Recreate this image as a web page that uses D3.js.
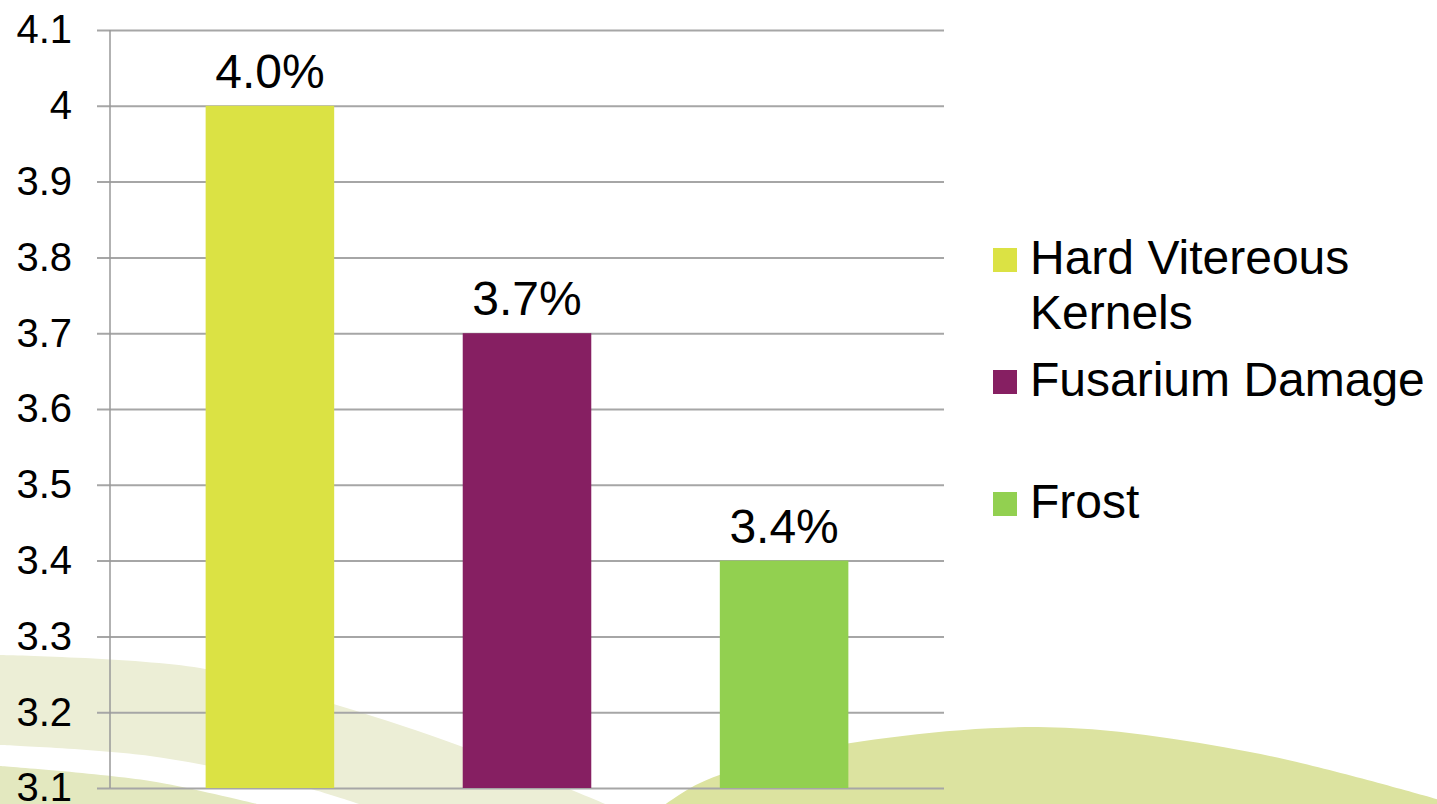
<!DOCTYPE html>
<html>
<head>
<meta charset="utf-8">
<script src="https://cdn.jsdelivr.net/npm/d3@7"></script>
<style>
  html, body { margin: 0; padding: 0; background: #fff; }
  svg { display: block; font-family: "Liberation Sans", Arial, sans-serif; }
</style>
</head>
<body>
<svg width="1437" height="804"></svg>
<script>
// chart data
var series = ["Hard Vitereous Kernels", "Fusarium Damage", "Frost"];
var legendLines = [["Hard Vitereous", "Kernels"], ["Fusarium Damage"], ["Frost"]];
var values = [4.0, 3.7, 3.4];
var valueLabels = ["4.0%", "3.7%", "3.4%"];
var yTicks = [3.1, 3.2, 3.3, 3.4, 3.5, 3.6, 3.7, 3.8, 3.9, 4.0, 4.1];
var colors = ["#dbe244", "#861f62", "#92d050"];

var svg = d3.select("svg"),
  plot = {left: 110, right: 944, top: 30, bottom: 788};

// decorative background waves
var wave = d3.line().curve(d3.curveCatmullRom);
var bg = svg.append("g");
bg.append("path")
  .attr("fill", "#eceed6")
  .attr("d", wave([[0, 655], [200, 668], [340, 706], [463, 747], [610, 806]]) +
    "L" + wave([[365, 806], [300, 786], [150, 756], [0, 745]]).slice(1) + "Z");
bg.append("path")
  .attr("fill", "#e3e8bf")
  .attr("d", wave([[0, 766], [150, 781], [265, 806]]) + "L0,806Z");
bg.append("path")
  .attr("fill", "#dce3a0")
  .attr("d", wave([[663, 806], [700, 783], [800, 752], [1038, 727], [1250, 752], [1440, 800]]) + "L1440,806Z");

var x = d3.scaleBand()
  .domain(series)
  .range([plot.left, plot.right])
  .paddingInner(0.5)
  .paddingOuter(0.372);

var y = d3.scaleLinear()
  .domain([3.1, 4.1])
  .range([plot.bottom, plot.top]);

// gridlines + tick labels
var yAxis = svg.append("g")
  .attr("transform", "translate(97,0)")
  .call(d3.axisLeft(y)
    .tickValues(yTicks)
    .tickFormat(d3.format("~g"))
    .tickSizeInner(-(plot.right - 97))
    .tickSizeOuter(0)
    .tickPadding(25));
yAxis.select(".domain").remove();
yAxis.selectAll(".tick line").attr("stroke", "#a6a6a6").attr("stroke-width", 2);
yAxis.selectAll(".tick text")
  .attr("font-size", 40)
  .attr("font-family", "'Liberation Sans', Arial, sans-serif")
  .attr("fill", "#000");

svg.append("line")
  .attr("x1", plot.left).attr("x2", plot.left)
  .attr("y1", plot.top).attr("y2", plot.bottom)
  .attr("stroke", "#999").attr("stroke-width", 1.5);

// bars
svg.append("g")
  .selectAll("rect")
  .data(values)
  .enter().append("rect")
    .attr("x", function(d, i) { return x(series[i]); })
    .attr("y", function(d) { return y(d); })
    .attr("width", x.bandwidth())
    .attr("height", function(d) { return y(3.1) - y(d); })
    .attr("fill", function(d, i) { return colors[i]; });

svg.append("g")
  .attr("text-anchor", "middle")
  .attr("font-size", 48)
  .selectAll("text")
  .data(values)
  .enter().append("text")
    .attr("x", function(d, i) { return x(series[i]) + x.bandwidth() / 2; })
    .attr("y", function(d) { return y(d) - 18; })
    .text(function(d, i) { return valueLabels[i]; });

// legend
var legend = svg.append("g")
    .attr("font-size", 48)
  .selectAll("g")
  .data(series)
  .enter().append("g")
    .attr("transform", function(d, i) { return "translate(993," + (260 + i * 122) + ")"; });

legend.append("rect")
  .attr("y", -12)
  .attr("width", 24)
  .attr("height", 24)
  .attr("fill", function(d, i) { return colors[i]; });

legend.append("text")
  .attr("x", 37)
  .attr("y", 14)
  .selectAll("tspan")
  .data(function(d, i) { return legendLines[i]; })
  .enter().append("tspan")
    .attr("x", 37)
    .attr("dy", function(d, j) { return j ? 55 : 0; })
    .text(function(d) { return d; });
</script>
</body>
</html>
